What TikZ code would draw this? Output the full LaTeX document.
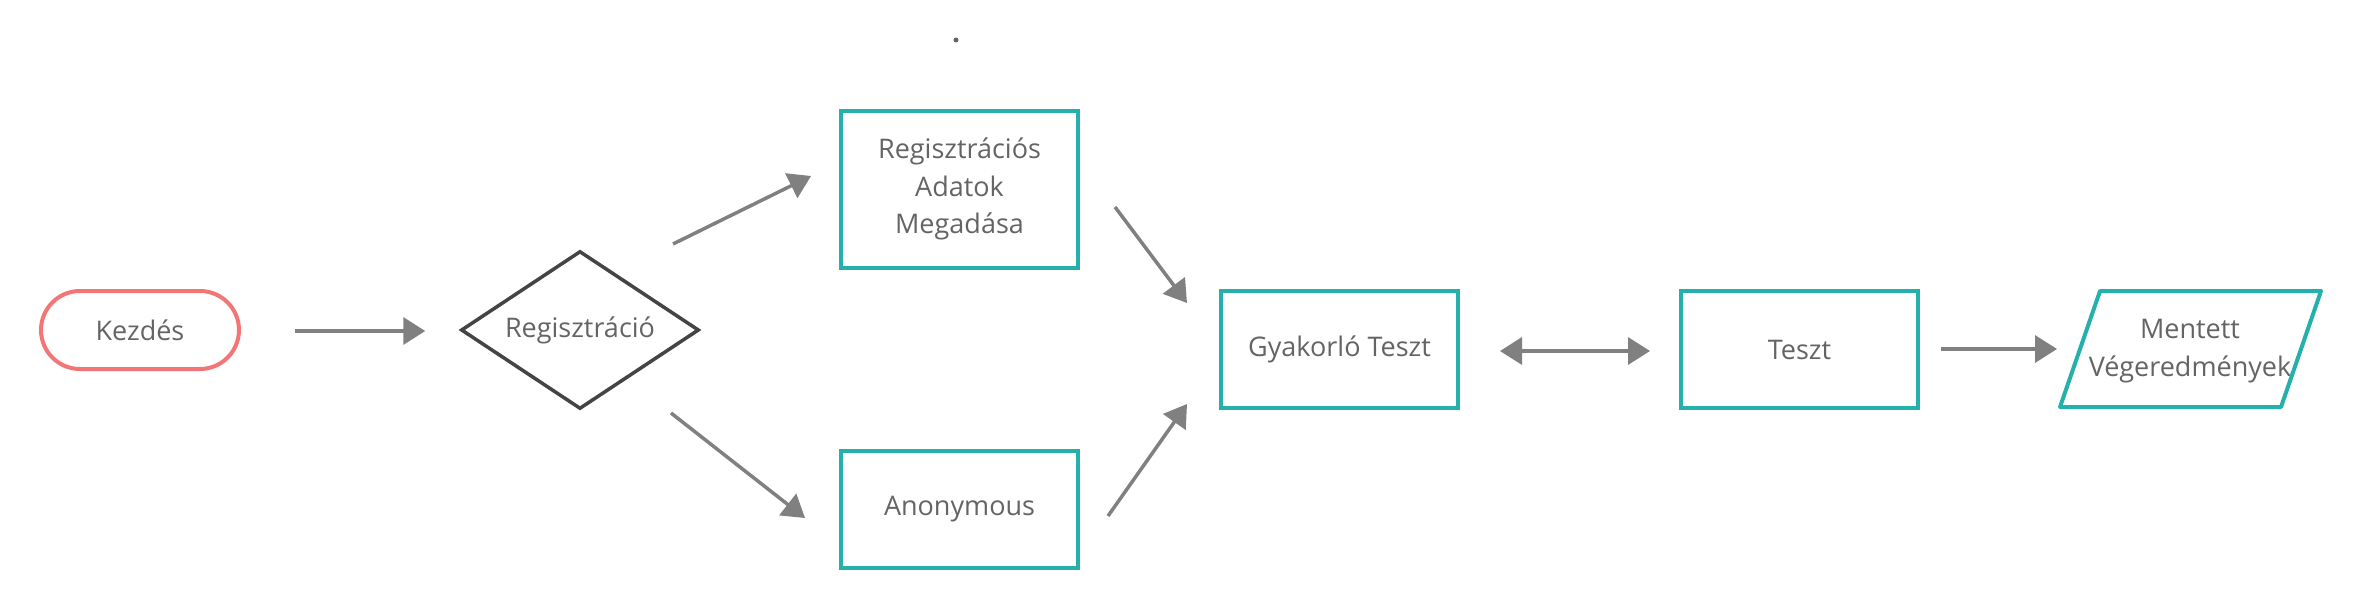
\documentclass[tikz,border=0pt]{standalone}
\usepackage{fontspec}
\setmainfont{Open Sans}
\usetikzlibrary{shapes.geometric,arrows.meta,calc}
\definecolor{tealc}{RGB}{38,176,172}
\definecolor{startc}{RGB}{244,117,117}
\definecolor{diac}{RGB}{68,68,68}
\definecolor{arrc}{RGB}{128,128,128}
\definecolor{txtc}{RGB}{100,100,100}
\begin{document}
\begin{tikzpicture}[x=1pt,y=-1pt,
  lbl/.style={font=\fontsize{27}{37.5}\selectfont, text=txtc, align=center, inner sep=0pt},
  box/.style={lbl, draw=tealc, line width=4pt, minimum width=237pt, minimum height=117pt},
  startbox/.style={lbl, draw=startc, line width=4pt, minimum width=198pt, minimum height=78pt, rounded corners=39pt},
  decision/.style={lbl, diamond, draw=diac, line width=3.5pt, minimum width=238pt, minimum height=158pt, aspect=1.5},
  arr/.style={draw=arrc, line width=3.5pt, -{Triangle[length=22pt,width=27pt]}},
  darr/.style={draw=arrc, line width=3.5pt, {Triangle[length=22pt,width=27pt]}-{Triangle[length=22pt,width=27pt]}},
]
\useasboundingbox (0,0) rectangle (2360,610);
\node[startbox] (kez) at (140,330) {Kezdés};
\node[decision] (dia) at (580,330) {Regisztráció};
\node[box, minimum height=157pt] (reg) at (959.5,189) {Regisztrációs\\Adatok\\Megadása};
\node[box] (anon) at (959.5,509.5) {Anonymous};
\node[box] (gyak) at (1339.5,349.5) {Gyakorló Teszt};
\node[box] (teszt) at (1799.5,349.5) {Teszt};
\node[lbl] (para) at (2190,351) {Mentett\\Végeredmények};
\draw[tealc, line width=4pt, line join=round]
  ($(para.center)+(-90,-60)$) -- ($(para.center)+(131,-60)$) --
  ($(para.center)+(91,56)$) -- ($(para.center)+(-130,56)$) -- cycle;
\fill[txtc] (956,40) circle (2.5pt);
\draw[arr] ($(kez.east)+(54,1)$) -- ($(dia.west)+(-34,1)$);
\draw[arr] ($(dia.center)+(93,-86)$) -- ($(reg.center)+(-148.5,-13)$);
\draw[arr] ($(dia.center)+(91,83)$) -- ($(anon.center)+(-154.5,8.5)$);
\draw[arr] ($(reg.center)+(155.5,18)$) -- ($(gyak.center)+(-152.5,-46.5)$);
\draw[arr] ($(anon.center)+(148.5,6.5)$) -- ($(gyak.center)+(-152.5,54.5)$);
\draw[darr] ($(gyak.center)+(160.5,1.5)$) -- ($(teszt.center)+(-149.5,1.5)$);
\draw[arr] ($(teszt.center)+(141.5,-0.5)$) -- ($(para.center)+(-133,-2)$);
\end{tikzpicture}
\end{document}
